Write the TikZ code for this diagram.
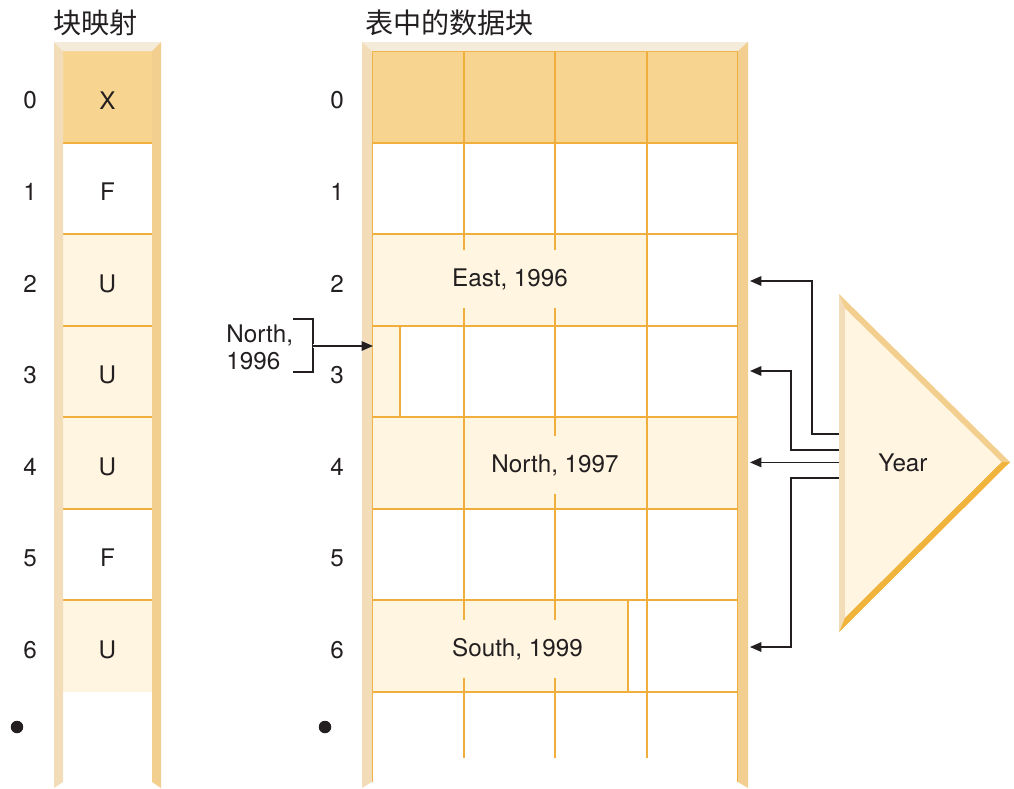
\documentclass[tikz,border=0pt]{standalone}
\usepackage{fontspec}
\setmainfont{TeX Gyre Heros}
\newfontfamily\cjk{Noto Sans CJK SC}
\usepackage{tikz}
\usetikzlibrary{arrows.meta, calc}
\definecolor{barlight}{HTML}{F2DDB8}
\definecolor{bardark}{HTML}{F2CF8E}
\definecolor{bevtop}{HTML}{F5EBDA}
\definecolor{hdrfill}{HTML}{F7D590}
\definecolor{usedfill}{HTML}{FFF5E1}
\definecolor{gridline}{HTML}{F0AE3C}
\definecolor{edgedark}{HTML}{F0B43C}
\definecolor{inkdark}{HTML}{231F20}
\tikzset{
  lbl/.style={font=\fontsize{13.8}{15.5}\selectfont, text=inkdark, inner sep=1pt},
  rownum/.style={lbl},
  blklbl/.style={lbl, fill=usedfill, inner xsep=2pt, minimum height=1.15cm},
  ttl/.style={font=\cjk\fontsize{16}{18}\selectfont, text=inkdark, anchor=west, inner sep=0pt},
  gridln/.style={draw=gridline, line width=1.1pt},
  arr/.style={-{Triangle[length=6.5pt, width=5.5pt]}, line width=0.75pt, draw=inkdark},
  brk/.style={line width=0.75pt, draw=inkdark},
  dotmark/.style={circle, fill=inkdark, inner sep=0pt, minimum size=0.25cm},
}
\begin{document}
\begin{tikzpicture}[x=0.02cm, y=-0.02cm]
  \useasboundingbox (0,0) rectangle (1014,788);
  % titles
  \node[ttl] (maptitle) at (53,22.5) {块映射};
  \node[ttl] (tbltitle) at (365,22.5) {表中的数据块};
  % block map fills and separators
  \fill[hdrfill] (63,51) rectangle (152,142.6);
  \foreach \r in {2,3,4,6}
    \fill[usedfill] (63,{51+91.57*\r}) rectangle (152,{51+91.57*(\r+1)});
  \foreach \r in {1,...,6}
    \draw[gridln] (63,{51+91.57*\r}) -- (152,{51+91.57*\r});
  \foreach \r/\t in {0/X,1/F,2/U,3/U,4/U,5/F,6/U} {
    \node[lbl] (map\r) at (107.5,{100.3+91.57*\r}) {\t};
    \node[rownum] (mapnum\r) at (30,{100.3+91.57*\r}) {\r};
    \node[rownum] (tblnum\r) at (337,{100.3+91.57*\r}) {\r};
  }
  % data block fills
  \fill[hdrfill] (372,51) rectangle (738,142.6);
  \fill[usedfill] (372,234.1) rectangle (647,325.7);
  \fill[usedfill] (372,325.7) rectangle (400,417.3);
  \fill[usedfill] (372,417.3) rectangle (738,508.9);
  \fill[usedfill] (372,600.4) rectangle (628,692);
  % grid
  \foreach \r in {0,...,7}
    \draw[gridln] (372,{51+91.57*\r}) -- (738,{51+91.57*\r});
  \foreach \x in {464,555,647}
    \draw[gridln] (\x,51) -- (\x,758);
  \draw[gridln] (372,51) -- (372,782);
  \draw[gridln] (738,51) -- (738,782);
  \draw[gridln] (400,325.7) -- (400,417.3);
  \draw[gridln] (628,600.4) -- (628,692);
  \node[blklbl] (east96) at (510,279) {East, 1996};
  \node[blklbl] (north97) at (555,465) {North, 1997};
  \node[blklbl] (south99) at (517.5,649) {South, 1999};
  % frames
  \fill[bevtop] (54,42) -- (161,42) -- (152,51) -- (63,51) -- cycle;
  \fill[barlight] (54,42) -- (63,51) -- (63,782) -- (54,788) -- cycle;
  \fill[bardark] (161,42) -- (152,51) -- (152,782) -- (161,788) -- cycle;
  \fill[bevtop] (362,42) -- (748,42) -- (738,51) -- (372,51) -- cycle;
  \fill[barlight] (362,42) -- (372,51) -- (372,782) -- (362,788) -- cycle;
  \fill[bardark] (748,42) -- (738,51) -- (738,782) -- (748,788) -- cycle;
  \node[dotmark] (mapdot) at (17,727) {};
  \node[dotmark] (tbldot) at (325,727) {};
  % North, 1996 pointer
  \node[lbl, align=left, anchor=west, inner sep=0pt] (north96) at (226,347) {North,\\1996};
  \coordinate (brkmid) at (313,346);
  \coordinate (tblin3) at (373,346);
  \draw[brk] (293,319) -- (313,319) -- (313,372) -- (293,372);
  \draw[arr, preaction={draw=white, line width=1.8pt, -{Triangle[length=9pt, width=8pt]}}] (brkmid) -- (tblin3);
  % Year triangle
  \fill[bardark] (839,294) -- (1010,462) -- (839,632) -- cycle;
  \fill[edgedark] (1010,462) -- (839,632) -- (845,617.5) -- (1001.5,462) -- cycle;
  \fill[barlight] (839,294) -- (845,308.5) -- (845,617.5) -- (839,632) -- cycle;
  \fill[usedfill] (845,308.5) -- (1001.5,462) -- (845,617.5) -- cycle;
  \node[lbl] (year) at (903,463) {Year};
  \coordinate (yr1) at (839,434);
  \coordinate (yr2) at (839,450);
  \coordinate (yr3) at (839,462.4);
  \coordinate (yr4) at (839,478);
  \coordinate (tblout2) at (750,281);
  \coordinate (tblout3) at (750,371);
  \coordinate (tblout4) at (750,462.4);
  \coordinate (tblout6) at (750,647);
  \draw[arr] (yr1) -- ++(-27,0) |- (tblout2);
  \draw[arr] (yr2) -- ++(-48,0) |- (tblout3);
  \draw[arr] (yr3) -- (tblout4);
  \draw[arr] (yr4) -- ++(-48,0) |- (tblout6);
\end{tikzpicture}
\end{document}
